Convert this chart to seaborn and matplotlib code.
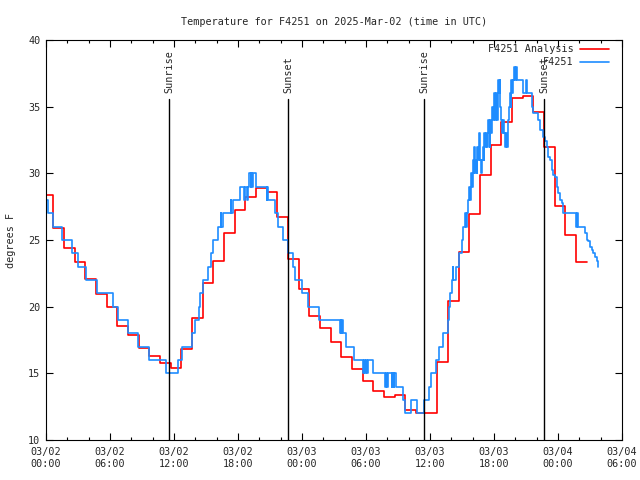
import matplotlib
matplotlib.use("Agg")
import matplotlib.pyplot as plt
import matplotlib.dates as mdates
import seaborn as sns
import pandas as pd

start = pd.Timestamp("2025-03-02 00:00")

# hourly analysis values (hours after start, deg F), drawn as steps
analysis_hours = [0.0, 0.7, 1.7, 2.7, 3.7, 4.7, 5.7, 6.7, 7.7, 8.7, 9.7, 10.7,
                  11.7, 12.7, 13.7, 14.7, 15.7, 16.7, 17.7, 18.7, 19.7, 20.7,
                  21.7, 22.7, 23.7, 24.7, 25.7, 26.7, 27.7, 28.7, 29.7, 30.7,
                  31.7, 32.7, 33.7, 34.7, 35.7, 36.7, 37.7, 38.7, 39.7, 40.7,
                  41.7, 42.7, 43.7, 44.7, 45.7, 46.7, 47.7, 48.7, 49.7, 50.7]
analysis_temp = [28.35, 25.88, 24.37, 23.32, 22.05, 20.92, 19.95, 18.57, 17.87,
                 16.88, 16.3, 15.75, 15.38, 16.8, 19.13, 21.75, 23.42, 25.55,
                 27.25, 28.25, 28.9, 28.6, 26.7, 23.6, 21.3, 19.3, 18.4, 17.35,
                 16.2, 15.33, 14.43, 13.7, 13.2, 13.38, 12.25, 12.05, 12.0,
                 15.87, 20.4, 24.07, 26.95, 29.87, 32.13, 33.88, 35.65, 35.8,
                 34.58, 31.95, 27.57, 25.38, 23.33, 23.33]

# station observations (change points)
obs_hours = [0.0, 0.22, 0.68, 1.47, 2.41, 3.03, 3.75, 4.75, 6.31, 6.78, 7.66,
             8.6, 9.68, 11.25, 12.41, 12.72, 13.66, 13.97, 14.3, 14.35, 14.38,
             14.44, 14.75, 15.22, 15.44, 15.69, 16.16, 16.4, 16.45, 16.63,
             17.3, 17.35, 17.5, 18.19, 18.6, 18.65, 18.85, 18.9, 19.06, 19.2,
             19.25, 19.35, 19.4, 19.66, 20.7, 20.74, 20.8, 21.45, 21.75, 22.25,
             22.72, 23.13, 23.34, 23.97, 24.59, 25.59, 27.56, 27.62, 27.7,
             27.75, 27.87, 28.1, 28.9, 29.69, 29.78, 29.9, 29.97, 30.1, 30.2,
             30.69, 31.78, 31.85, 31.95, 32.02, 32.41, 32.48, 32.6, 32.66,
             32.81, 33.5, 33.7, 34.25, 34.75, 35.47, 35.9, 36.1, 36.56, 36.88,
             37.25, 37.66, 37.81, 37.9, 38.03, 38.15, 38.2, 38.4, 38.75, 39.0,
             39.1, 39.3, 39.4, 39.48, 39.59, 39.7, 39.78, 39.85, 39.91, 40.0,
             40.08, 40.12, 40.2, 40.28, 40.36, 40.45, 40.53, 40.6, 40.66,
             40.72, 40.8, 40.88, 40.94, 41.02, 41.1, 41.18, 41.26, 41.34,
             41.42, 41.5, 41.58, 41.66, 41.74, 41.82, 41.9, 41.98, 42.05,
             42.12, 42.2, 42.28, 42.36, 42.44, 42.52, 42.6, 42.68, 42.76,
             42.86, 42.94, 43.02, 43.12, 43.22, 43.3, 43.38, 43.46, 43.56,
             43.64, 43.72, 43.8, 43.9, 44.0, 44.08, 44.2, 44.75, 45.0, 45.06,
             45.53, 45.7, 46.15, 46.31, 46.62, 46.78, 46.94, 47.09, 47.25,
             47.41, 47.56, 47.72, 47.88, 48.03, 48.19, 48.34, 48.5, 49.72,
             49.76, 49.85, 50.53, 50.69, 50.84, 51.0, 51.16, 51.31, 51.47,
             51.62, 51.72]
obs_temp = [28, 27, 26, 25, 24, 23, 22, 21, 20, 19, 18,
            17, 16, 15, 16, 17, 18, 19, 20, 19, 20,
            21, 22, 23, 24, 25, 26, 27, 26, 27,
            28, 27, 28, 29, 28, 29, 28, 29, 30, 29,
            30, 29, 30, 29, 28, 29, 28, 27, 26, 25,
            24, 23, 22, 21, 20, 19, 18, 19, 18,
            19, 18, 17, 16, 15, 16, 15, 16, 15, 16,
            15, 14, 15, 14, 15, 14, 15, 14, 15,
            14, 13, 12, 13, 12, 13, 14, 15, 16, 17,
            18, 19, 20, 21, 22, 23, 22, 23, 24, 25,
            26, 27, 26, 27, 28, 29, 28, 30, 29, 31,
            30, 32, 30, 31, 30, 32, 31, 33, 32,
            31, 30, 31, 32, 31, 33, 32, 33, 32,
            34, 33, 32, 34, 33, 35, 34, 36, 35,
            34, 36, 34, 37, 36, 37, 35, 34, 33,
            34, 33, 32, 33, 32, 34, 35, 36, 35,
            37, 36, 37, 38, 37, 38, 37, 36, 37, 36,
            35, 34.5, 34, 33.25, 32.75, 32.4, 32, 31.25, 31,
            30.25, 29.9, 29.75, 29, 28.5, 28, 27.75, 27, 26,
            27, 26, 25.5, 25, 24.9, 24.5, 24.25, 24, 23.75,
            23.4, 23.0]

sun_labels = ["Sunrise", "Sunset", "Sunrise", "Sunset"]
sun_hours = [11.53, 22.69, 35.44, 46.69]


def to_time(hours):
    return start + pd.to_timedelta(hours, unit="h")


analysis = pd.DataFrame({"time": to_time(analysis_hours), "temp": analysis_temp})
obs = pd.DataFrame({"time": to_time(obs_hours), "temp": obs_temp})

sns.set_style("ticks")
plt.rcParams["font.family"] = ["DejaVu Sans Mono"]
plt.rcParams["font.size"] = 7.3

fig, ax = plt.subplots(figsize=(6.4, 4.8), dpi=100)
fig.subplots_adjust(left=46 / 640, right=622 / 640, bottom=40 / 480, top=440 / 480)

sns.lineplot(data=analysis, x="time", y="temp", drawstyle="steps-post",
             color="#ff0000", lw=1.2, label="F4251 Analysis", estimator=None, ax=ax)
sns.lineplot(data=obs, x="time", y="temp", drawstyle="steps-post",
             color="#1e8cff", lw=1.2, label="F4251", estimator=None, ax=ax)

# sunrise / sunset markers
for lab, h in zip(sun_labels, to_time(sun_hours)):
    ax.axvline(h, ymin=0, ymax=0.852, color="black", lw=1, zorder=4)
    ax.text(h, 0.868, lab, rotation=90, ha="center", va="bottom",
            transform=ax.get_xaxis_transform(), fontsize=7.3)

ax.set_xlim(start, to_time([54.0])[0])
ax.set_ylim(10, 40)
ax.set_yticks([10, 15, 20, 25, 30, 35, 40])
ax.xaxis.set_major_locator(mdates.HourLocator(byhour=[0, 6, 12, 18]))
ax.xaxis.set_minor_locator(mdates.HourLocator(byhour=list(range(0, 24, 2))))
ax.xaxis.set_major_formatter(mdates.DateFormatter("%m/%d\n%H:%M"))

ax.tick_params(which="both", direction="in", top=True, right=True,
               labelsize=7.3, width=0.8, color="black")
ax.tick_params(which="major", length=5)
ax.tick_params(which="minor", length=2.5)
ax.tick_params(axis="x", pad=5)
ax.tick_params(axis="y", pad=4)
for s in ax.spines.values():
    s.set_linewidth(0.8)
    s.set_color("black")

ax.set_xlabel("")
ax.set_ylabel("degrees F", fontsize=7.3, labelpad=9)
ax.set_title("Temperature for F4251 on 2025-Mar-02 (time in UTC)", fontsize=7.3, pad=11)

ax.legend(loc="upper right", bbox_to_anchor=(0.985, 1.0), borderaxespad=0,
          borderpad=0.4, frameon=False, markerfirst=False, handlelength=2.9,
          handletextpad=0.6, labelspacing=0.3, fontsize=7.3)

fig.savefig("out.png", dpi=100)
plt.close(fig)
